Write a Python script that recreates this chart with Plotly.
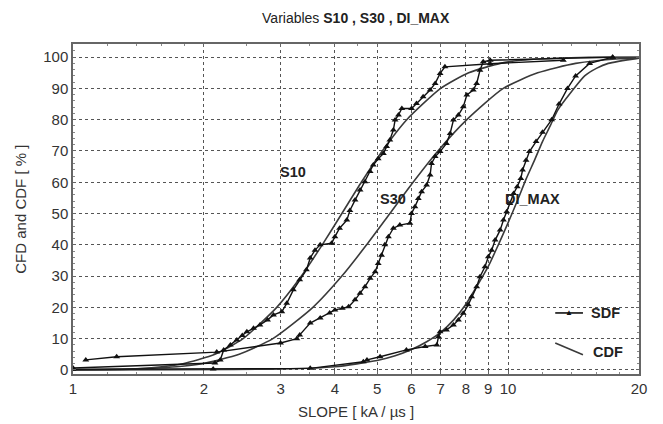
import math
import plotly.graph_objects as go

# ---------------- data ----------------
S10_SDF_X = [1.0, 2.12, 2.18, 2.22, 2.30, 2.38, 2.45, 2.51, 2.60, 2.69, 2.80, 2.89, 3.02, 3.10, 3.21,
             3.32, 3.44, 3.51, 3.60, 3.70, 3.93, 4.0, 4.10, 4.26, 4.33, 4.45, 4.57, 4.69, 4.82, 4.90,
             5.03, 5.17, 5.26, 5.35, 5.45, 5.50, 5.60, 5.70, 6.0, 6.16, 6.38, 6.62, 6.80, 6.98, 7.16,
             9.1, 13.4]
S10_SDF_Y = [0.6, 2.2, 3.2, 6.4, 8.0, 9.6, 11.0, 12.2, 13.3, 14.4, 16.0, 17.6, 18.6, 21.3, 25.6,
             28.8, 32.0, 35.8, 38.3, 40.0, 40.5, 42.6, 45.3, 47.9, 51.0, 54.3, 57.5, 60.2, 63.4, 65.5,
             67.5, 69.2, 71.4, 73.5, 76.7, 79.9, 81.5, 83.6, 83.6, 85.2, 87.3, 89.5, 91.6, 94.8, 96.9,
             97.9, 99.0]

S30_SDF_X = [1.07, 1.26, 2.14, 3.0, 3.27, 3.32, 3.51, 3.70, 3.89, 4.0, 4.16, 4.30, 4.45, 4.57, 4.69,
             4.82, 4.95, 5.03, 5.12, 5.21, 5.31, 5.45, 5.64, 5.95, 6.0, 6.11, 6.22, 6.33, 6.50, 6.62,
             6.67, 6.80, 6.98, 7.22, 7.36, 7.49, 7.69, 7.89, 8.04, 8.32, 8.47, 8.62, 8.77, 9.1, 17.4]
S30_SDF_Y = [3.2, 4.2, 5.7, 8.6, 10.0, 11.2, 15.0, 16.6, 18.2, 19.2, 19.7, 20.2, 22.4, 24.5, 26.6,
             29.3, 31.4, 34.0, 36.7, 40.0, 42.6, 45.3, 46.3, 46.9, 50.0, 52.2, 54.8, 57.0, 59.1, 62.3,
             66.0, 68.2, 69.8, 72.4, 75.6, 79.9, 81.5, 84.1, 87.9, 89.5, 91.6, 95.8, 98.5, 99.0, 100.0]

DI_SDF_X = [1.0, 2.1, 3.51, 4.65, 4.74, 5.08, 5.84, 6.45, 6.86, 6.92, 6.98, 7.22, 7.49, 7.69, 7.89,
            8.10, 8.25, 8.47, 8.62, 8.85, 9.01, 9.17, 9.34, 9.59, 9.76, 9.93, 10.1, 10.3, 10.5, 10.7,
            10.8, 11.0, 11.2, 11.6, 12.0, 12.6, 13.1, 13.7, 14.3, 15.4, 17.4]
DI_SDF_Y = [0.2, 0.3, 0.5, 2.6, 3.2, 4.2, 6.4, 7.5, 8.0, 10.6, 12.2, 12.8, 14.4, 16.0, 18.1,
            20.8, 23.4, 26.6, 29.8, 33.0, 36.2, 38.3, 41.5, 44.7, 47.9, 50.6, 53.2, 56.4, 58.6, 61.2,
            63.9, 67.0, 69.8, 73.0, 76.0, 80.0, 85.0, 90.0, 94.0, 98.0, 100.0]

S10_CDF_X = [1.0, 1.35, 1.60, 1.79, 2.12, 2.46, 2.94, 3.35, 3.74, 4.15, 4.60, 5.14, 5.85, 7.0, 8.12,
             9.6, 10.7, 14.7, 20.0]
S10_CDF_Y = [0.0, 0.2, 1.0, 2.0, 5.0, 10.0, 20.0, 30.0, 40.0, 50.0, 60.0, 70.0, 80.0, 90.0, 95.0,
             98.0, 99.0, 99.9, 100.0]

S30_CDF_X = [1.0, 1.30, 1.50, 1.73, 1.98, 2.41, 2.88, 3.56, 4.15, 4.73, 5.35, 6.05, 6.90, 8.04, 9.75,
             11.7, 14.3, 18.0, 20.0]
S30_CDF_Y = [0.0, 0.2, 0.5, 1.0, 2.0, 5.0, 10.0, 20.0, 30.0, 40.0, 50.0, 60.0, 70.0, 80.0, 90.0,
             95.0, 98.0, 99.5, 99.7]

DI_CDF_X = [1.0, 3.0, 4.0, 5.0, 5.5, 6.0, 6.5, 7.0, 7.5, 8.0, 8.5, 9.0, 9.5, 10.0, 10.5, 11.0,
            11.5, 12.0, 12.5, 13.0, 14.0, 15.0, 16.0, 17.0, 20.0]
DI_CDF_Y = [0.0, 0.3, 1.0, 3.0, 4.5, 6.5, 9.0, 12.0, 16.0, 21.0, 27.0, 33.0, 40.0, 47.0, 54.0, 61.0,
            67.0, 73.0, 78.0, 83.0, 89.0, 94.0, 96.5, 98.0, 99.7]

X_TICKS = [1, 2, 3, 4, 5, 6, 7, 8, 9, 10, 20]
X_MINOR = [1.2, 1.4, 1.6, 1.8, 2.5, 3.5, 4.5, 12, 14, 16, 18]
Y_TICKS = [0, 10, 20, 30, 40, 50, 60, 70, 80, 90, 100]

SERIES_LABELS = [("S10", 3.20, 63.3), ("S30", 5.44, 54.6), ("DI_MAX", 11.4, 54.6)]

FONT = "Liberation Sans, Arial, sans-serif"
TICK_SIZE = 15
LABEL_SIZE = 14.5

fig = go.Figure()

for cx, cy in [(S10_CDF_X, S10_CDF_Y), (S30_CDF_X, S30_CDF_Y), (DI_CDF_X, DI_CDF_Y)]:
    fig.add_trace(go.Scatter(x=cx, y=cy, mode="lines",
                             line=dict(color="#3a3a3a", width=1.6, shape="spline", smoothing=0.6),
                             showlegend=False, hoverinfo="skip"))

for sx, sy in [(S10_SDF_X, S10_SDF_Y), (S30_SDF_X, S30_SDF_Y), (DI_SDF_X, DI_SDF_Y)]:
    fig.add_trace(go.Scatter(x=sx, y=sy, mode="lines+markers",
                             line=dict(color="#111111", width=1.4),
                             marker=dict(symbol="triangle-up", size=6, color="#111111"),
                             showlegend=False))

for name, lx, ly in SERIES_LABELS:
    fig.add_annotation(x=math.log10(lx), y=ly, xref="x", yref="y", text="<b>%s</b>" % name,
                       showarrow=False, xanchor="center", yanchor="middle",
                       font=dict(family=FONT, size=LABEL_SIZE, color="#222"))

# legend drawn by hand
fig.add_shape(type="line", xref="paper", yref="paper", x0=0.852, x1=0.901, y0=0.185, y1=0.185,
              line=dict(color="#111", width=1.6))
fig.add_annotation(xref="paper", yref="paper", x=0.877, y=0.188, text="▲", showarrow=False,
                   xanchor="center", yanchor="middle", font=dict(size=8, color="#111"))
fig.add_annotation(xref="paper", yref="paper", x=0.911, y=0.185, xanchor="left", yanchor="middle",
                   text="<b>SDF</b>", showarrow=False, font=dict(family=FONT, size=LABEL_SIZE, color="#222"))
fig.add_shape(type="line", xref="paper", yref="paper", x0=0.852, x1=0.901, y0=0.094, y1=0.058,
              line=dict(color="#3a3a3a", width=1.6))
fig.add_annotation(xref="paper", yref="paper", x=0.915, y=0.067, xanchor="left", yanchor="middle",
                   text="<b>CDF</b>", showarrow=False, font=dict(family=FONT, size=LABEL_SIZE, color="#222"))

# axis titles
fig.add_annotation(xref="paper", yref="paper", x=-0.094, y=0.5, text="CFD and CDF [ % ]", textangle=-90,
                   xanchor="center", yanchor="middle",
                   showarrow=False, font=dict(family=FONT, size=TICK_SIZE, color="#333"))
fig.add_annotation(xref="paper", yref="paper", x=0.5, y=-0.115, text="SLOPE [ kA / µs ]",
                   xanchor="center", yanchor="middle",
                   showarrow=False, font=dict(family=FONT, size=TICK_SIZE, color="#333"))

grid = dict(showgrid=True, gridcolor="#555", griddash="dot", gridwidth=1)
fig.update_xaxes(type="log", range=[0, 1.30103], tickvals=X_TICKS, ticktext=[str(v) for v in X_TICKS],
                 showline=True, linecolor="#666", linewidth=1.5, mirror="ticks", ticks="inside", ticklen=3,
                 tickcolor="#666", zeroline=False,
                 minor=dict(tickvals=X_MINOR, ticks="inside", ticklen=2, tickcolor="#888", showgrid=False),
                 tickfont=dict(family=FONT, size=TICK_SIZE, color="#333"), **grid)
fig.update_yaxes(range=[-1.3, 104.2], tickvals=Y_TICKS, showline=True, linecolor="#666", linewidth=1.5,
                 mirror="ticks", ticks="inside", ticklen=3, tickcolor="#666", zeroline=False,
                 minor=dict(ticks="inside", ticklen=2, dtick=2, tickcolor="#888", showgrid=False),
                 tickfont=dict(family=FONT, size=TICK_SIZE, color="#333"), **grid)

fig.update_layout(
    width=663, height=424,
    margin=dict(l=73, r=24, t=44, b=50),
    paper_bgcolor="white", plot_bgcolor="white",
    title=dict(text="Variables <b>S10 , S30 , DI_MAX</b>", x=0.5365, xanchor="center", y=0.958,
               yanchor="middle", font=dict(family=FONT, size=14, color="#222")),
    showlegend=False,
)

fig.write_html("out.html")
